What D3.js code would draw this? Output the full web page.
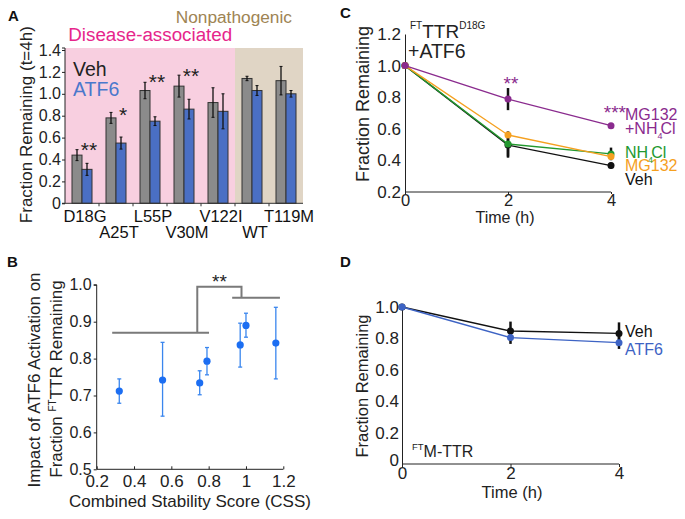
<!DOCTYPE html>
<html><head><meta charset="utf-8">
<script src="https://cdn.jsdelivr.net/npm/d3@7"></script>
<style>
body{margin:0;background:#fff}
svg text{font-family:"Liberation Sans",Arial,Helvetica,sans-serif}
</style>
</head><body>
<svg id="chart" width="685" height="519"></svg>
<script>
// ---------- Panel A data ----------
const mutants = ["D18G","A25T","L55P","V30M","V122I","WT","T119M"];
const vehA = [0.44,0.78,1.03,1.07,0.92,1.14,1.12];
const vehErrA = [0.05,0.05,0.075,0.10,0.135,0.02,0.13];
const atf6A = [0.31,0.55,0.75,0.86,0.84,1.03,1.00];
const atf6ErrA = [0.055,0.055,0.04,0.09,0.16,0.045,0.03];
const sigA = ["**","*","**","**","","",""];
const sigLevelA = [0.42,0.74,1.04,1.10,0,0,0];
const ticksA = [0,0.2,0.4,0.6,0.8,1.0,1.2,1.4];

// ---------- Panel B data ----------
const cssB = [0.321,0.553,0.752,0.791,0.969,1.0,1.16];
const impactB = [0.712,0.742,0.734,0.793,0.837,0.89,0.842];
const impactLoB = [0.679,0.644,0.702,0.756,0.777,0.858,0.745];
const impactHiB = [0.745,0.844,0.767,0.83,0.896,0.923,0.939];
const ticksBx = [0.2,0.4,0.6,0.8,1.0,1.2];
const ticksBy = [0.5,0.6,0.7,0.8,0.9,1.0];

// ---------- Panel C data ----------
const timeC = [0,2,4];
const seriesC = ["MG132+NH4Cl","NH4Cl","MG132","Veh"];
const mgNhC = [1.0,0.788,0.62];
const nhC = [1.0,0.504,0.441];
const mgC = [1.0,0.561,0.424];
const vehC = [1.0,0.497,0.367];
const errMgNhC = [0,0.07,0];
const errNhC = [0,0.08,0.04];
const errVehC = [0,0.08,0.02];
const ticksCy = [0.2,0.4,0.6,0.8,1.0,1.2];

// ---------- Panel D data ----------
const timeD = [0,2,4];
const vehD = [1.0,0.847,0.832];
const atf6D = [1.0,0.805,0.773];
const errVehD = [0,0.06,0.07];
const errAtf6D = [0,0.04,0.04];
const ticksDy = [0,0.2,0.4,0.6,0.8,1.0];

const FONT = '"Liberation Sans",Arial,Helvetica,sans-serif';
const svg = d3.select("#chart");
svg.append("rect").attr("width",685).attr("height",519).attr("fill","#fff");

function styleAxis(g, fs){
  g.selectAll("path.domain").attr("stroke","#222").attr("stroke-width",1);
  g.selectAll(".tick line").attr("stroke","#222");
  g.selectAll(".tick text").attr("font-family",FONT).attr("font-size",fs).attr("fill","#222");
}

// ================= PANEL A =================
const xA = d3.scaleBand().domain(mutants).range([65,303]).padding(0);
const yA = d3.scaleLinear().domain([0,1.4]).range([203.3,50]);
const gA = svg.append("g");
gA.append("rect").attr("x",xA.range()[0]).attr("y",yA(1.4)-2)
  .attr("width",xA("WT")-xA.range()[0]).attr("height",yA(0)-yA(1.4)+2).attr("fill","#f8cfe0");
gA.append("rect").attr("x",xA("WT")).attr("y",yA(1.4)-2)
  .attr("width",xA.range()[1]-xA("WT")).attr("height",yA(0)-yA(1.4)+2).attr("fill","#e0d5c5");

const bw = 10;
mutants.forEach((m,i)=>{
  const c = xA(m)+xA.bandwidth()/2;
  gA.append("rect").attr("x",c-bw).attr("y",yA(vehA[i])).attr("width",bw)
    .attr("height",yA(0)-yA(vehA[i])).attr("fill","#8b8b8b").attr("stroke","#333").attr("stroke-width",1);
  gA.append("rect").attr("x",c).attr("y",yA(atf6A[i])).attr("width",bw)
    .attr("height",yA(0)-yA(atf6A[i])).attr("fill","#4a6fc4").attr("stroke","#333").attr("stroke-width",1);
  [[c-bw/2,vehA[i],vehErrA[i]],[c+bw/2,atf6A[i],atf6ErrA[i]]].forEach(([x,v,e])=>{
    gA.append("line").attr("x1",x).attr("x2",x).attr("y1",yA(v-e)).attr("y2",yA(v+e))
      .attr("stroke","#111").attr("stroke-width",1.3);
    [v-e,v+e].forEach(t=>gA.append("line").attr("x1",x-1.5).attr("x2",x+1.5).attr("y1",yA(t)).attr("y2",yA(t))
      .attr("stroke","#111").attr("stroke-width",1));
  });
  if(sigA[i]){
    gA.append("text").attr("x",c+7).attr("y",yA(sigLevelA[i])).attr("text-anchor","middle")
      .attr("font-size",21).attr("fill","#222").text(sigA[i]);
  }
  gA.append("text").attr("x",c+3).attr("y",i%2===0?222:238).attr("text-anchor","middle")
    .attr("font-size",16.5).attr("fill","#111").text(m);
});
const axA = gA.append("g").attr("transform",`translate(${xA.range()[0]},0)`)
  .call(d3.axisLeft(yA).tickValues(ticksA).tickSize(3).tickPadding(1)
    .tickFormat(d=>d===0?"0":d3.format(".1f")(d)));
styleAxis(axA,16);
axA.select("path.domain").attr("d",`M-3,${yA(1.4)-2}H0V${yA(0)}H-3`);
gA.append("line").attr("x1",xA.range()[0]).attr("x2",xA.range()[1]).attr("y1",yA(0)).attr("y2",yA(0))
  .attr("stroke","#333").attr("stroke-width",1);
mutants.slice(1).forEach(m=>gA.append("line").attr("x1",xA(m)).attr("x2",xA(m))
  .attr("y1",yA(0)).attr("y2",yA(0)+3).attr("stroke","#333"));
gA.append("text").attr("transform",`translate(31.5,${(yA(0)+yA(1.4))/2-2}) rotate(-90)`)
  .attr("text-anchor","middle").attr("font-size",17).attr("fill","#222").text("Fraction Remaining (t=4h)");
gA.append("text").attr("x",73).attr("y",75.5).attr("font-size",19.5).attr("fill","#222").text("Veh");
gA.append("text").attr("x",73).attr("y",95.5).attr("font-size",19.5).attr("fill","#4a78cc").text("ATF6");
gA.append("text").attr("x",68.3).attr("y",40.5).attr("font-size",18.8).attr("fill","#e6258b").text("Disease-associated");
gA.append("text").attr("x",175.7).attr("y",22.5).attr("font-size",17.3).attr("fill","#9e8453").text("Nonpathogenic");
gA.append("text").attr("x",8).attr("y",20.7).attr("font-size",15).attr("font-weight","bold").attr("fill","#111").text("A");

// ================= PANEL B =================
const xB = d3.scaleLinear().domain([0.2,1.2]).range([96.7,283.3]);
const yB = d3.scaleLinear().domain([0.5,1.0]).range([469.3,284.8]);
const gB = svg.append("g");
const axBy = gB.append("g").attr("transform",`translate(${xB(0.2)},0)`)
  .call(d3.axisLeft(yB).tickValues(ticksBy).tickSize(3).tickPadding(2).tickFormat(d3.format(".1f")));
styleAxis(axBy,16);
axBy.select("path.domain").attr("d",`M-3,${yB(1.0)}H0V${yB(0.5)}`);
const axBx = gB.append("g").attr("transform",`translate(0,${yB(0.5)})`)
  .call(d3.axisBottom(xB).tickValues(ticksBx).tickSize(-3).tickPadding(6).tickFormat(d=>String(+d.toFixed(1))));
styleAxis(axBx,17);
axBx.select("path.domain").attr("d",`M${xB(0.2)},0H${xB(1.2)}`);
const brLeft = [0.283,0.802,0.870];
const brRight = [0.926,1.182,0.965];
const brTop = 0.995;
const brJoinL = 0.739, brJoinR = 0.976;
const brPath = d3.path();
brPath.moveTo(xB(brLeft[0]),yB(brLeft[2])); brPath.lineTo(xB(brLeft[1]),yB(brLeft[2]));
brPath.moveTo(xB(brJoinL),yB(brLeft[2])); brPath.lineTo(xB(brJoinL),yB(brTop));
brPath.lineTo(xB(brJoinR),yB(brTop)); brPath.lineTo(xB(brJoinR),yB(brRight[2]));
brPath.moveTo(xB(brRight[0]),yB(brRight[2])); brPath.lineTo(xB(brRight[1]),yB(brRight[2]));
gB.append("path").attr("d",brPath.toString()).attr("fill","none").attr("stroke","#7a7a7a").attr("stroke-width",2);
gB.append("text").attr("x",(xB(brJoinL)+xB(brJoinR))/2).attr("y",yB(brTop)+1).attr("text-anchor","middle")
  .attr("font-size",19).attr("fill","#222").text("**");
cssB.forEach((x,i)=>{
  gB.append("line").attr("x1",xB(x)).attr("x2",xB(x)).attr("y1",yB(impactLoB[i])).attr("y2",yB(impactHiB[i]))
    .attr("stroke","#3a86ee").attr("stroke-width",1.3);
  [impactLoB[i],impactHiB[i]].forEach(t=>gB.append("line").attr("x1",xB(x)-2).attr("x2",xB(x)+2)
    .attr("y1",yB(t)).attr("y2",yB(t)).attr("stroke","#3a86ee").attr("stroke-width",1.3));
  gB.append("circle").attr("cx",xB(x)).attr("cy",yB(impactB[i])).attr("r",3.6).attr("fill","#1c6ef2");
});
gB.append("text").attr("transform",`translate(40,380) rotate(-90)`).attr("text-anchor","middle")
  .attr("font-size",17).attr("fill","#222").text("Impact of ATF6 Activation on");
const tB2 = gB.append("text").attr("transform",`translate(61.5,379) rotate(-90)`).attr("text-anchor","middle")
  .attr("font-size",17).attr("fill","#222");
tB2.append("tspan").text("Fraction ");
tB2.append("tspan").attr("font-size",10).attr("dy",-6).text("FT");
tB2.append("tspan").attr("dy",6).text("TTR Remaining");
gB.append("text").attr("x",190).attr("y",507).attr("text-anchor","middle").attr("font-size",17)
  .attr("fill","#222").text("Combined Stability Score (CSS)");
gB.append("text").attr("x",7).attr("y",267).attr("font-size",15).attr("font-weight","bold").attr("fill","#111").text("B");

// ================= PANEL C =================
const xC = d3.scaleLinear().domain([0,4]).range([405,611]);
const yC = d3.scaleLinear().domain([0.2,1.2]).range([192,34]);
const gC = svg.append("g");
const axCy = gC.append("g").attr("transform",`translate(${xC(0)},0)`)
  .call(d3.axisLeft(yC).tickValues(ticksCy).tickSize(0).tickPadding(4).tickFormat(d3.format(".1f")));
styleAxis(axCy,17);
const axCx = gC.append("g").attr("transform",`translate(0,${yC(0.2)})`)
  .call(d3.axisBottom(xC).tickValues(timeC).tickSize(2).tickPadding(0).tickFormat(d3.format("d")));
styleAxis(axCx,16.5);
axCx.select("path.domain").attr("d",`M${xC(0)},0H${xC(4)}`);
gC.append("text").attr("transform",`translate(369,104) rotate(-90)`).attr("text-anchor","middle")
  .attr("font-size",18).attr("fill","#222").text("Fraction Remaining");
gC.append("text").attr("x",505).attr("y",223).attr("text-anchor","middle").attr("font-size",16)
  .attr("fill","#222").text("Time (h)");
const colC = {mgnh:"#8a2b8e",nh:"#23982f",mg:"#f5a01f",veh:"#111"};
const lineC = d3.line().x((d,i)=>xC(timeC[i])).y(d=>yC(d));
const drawC = [[vehC,colC.veh],[nhC,colC.nh],[mgC,colC.mg],[mgNhC,colC.mgnh]];
[[vehC,errVehC],[nhC,errNhC],[mgNhC,errMgNhC]].forEach(([vals,errs])=>{
  vals.forEach((v,i)=>{ if(errs[i]>0) gC.append("line").attr("x1",xC(timeC[i])).attr("x2",xC(timeC[i]))
    .attr("y1",yC(v-errs[i])).attr("y2",yC(v+errs[i])).attr("stroke","#111").attr("stroke-width",2.5); });
});
drawC.forEach(([vals,col])=>{
  gC.append("path").attr("d",lineC(vals)).attr("fill","none").attr("stroke",col).attr("stroke-width",1.4);
  vals.forEach((v,i)=>gC.append("circle").attr("cx",xC(timeC[i])).attr("cy",yC(v)).attr("r",3.5).attr("fill",col));
});
gC.append("text").attr("x",xC(2)+3).attr("y",yC(0.847)).attr("text-anchor","middle").attr("font-size",19)
  .attr("fill",colC.mgnh).text("**");
gC.append("text").attr("x",xC(4)+15).attr("y",yC(0.663)).attr("text-anchor","end").attr("font-size",19)
  .attr("fill",colC.mgnh).text("***");
function nh4cl(sel, prefix){
  sel.append("tspan").text(prefix+"NH");
  sel.append("tspan").attr("font-size",9).attr("dy",5).text("4");
  sel.append("tspan").attr("dy",-5).attr("dx",-2).text("Cl");
}
gC.append("text").attr("x",625).attr("y",119.5).attr("font-size",16).attr("fill",colC.mgnh).text("MG132");
nh4cl(gC.append("text").attr("x",625).attr("y",133.5).attr("font-size",16).attr("fill",colC.mgnh),"+");
nh4cl(gC.append("text").attr("x",625).attr("y",157.5).attr("font-size",16).attr("fill",colC.nh),"");
gC.append("text").attr("x",625).attr("y",171).attr("font-size",16).attr("fill",colC.mg).text("MG132");
gC.append("text").attr("x",625).attr("y",184.5).attr("font-size",16).attr("fill",colC.veh).text("Veh");
const tC = gC.append("text").attr("x",410).attr("y",38).attr("font-size",19).attr("fill","#222");
tC.append("tspan").attr("font-size",10).attr("dy",-9).text("FT");
tC.append("tspan").attr("dy",9).text("TTR");
tC.append("tspan").attr("font-size",10).attr("dy",-9).text("D18G");
gC.append("text").attr("x",408).attr("y",58.3).attr("font-size",19.5).attr("fill","#222").text("+ATF6");
gC.append("text").attr("x",340).attr("y",18.3).attr("font-size",15).attr("font-weight","bold").attr("fill","#111").text("C");

// ================= PANEL D =================
const xD = d3.scaleLinear().domain([0,4]).range([402,619]);
const yD = d3.scaleLinear().domain([0,1]).range([464,307]);
const gD = svg.append("g");
const axDy = gD.append("g").attr("transform",`translate(${xD(0)},0)`)
  .call(d3.axisLeft(yD).tickValues(ticksDy).tickSize(0).tickPadding(3)
    .tickFormat(d=>d===0?"0":d3.format(".1f")(d)));
styleAxis(axDy,17);
axDy.selectAll(".tick text").filter(d=>d===0).attr("dy","0.1em");
const axDx = gD.append("g").attr("transform",`translate(0,${yD(0)})`)
  .call(d3.axisBottom(xD).tickValues(timeD).tickSize(3).tickPadding(0).tickFormat(d3.format("d")));
styleAxis(axDx,17);
axDx.select("path.domain").attr("d",`M${xD(0)},0H${xD(4)}`);
gD.append("text").attr("transform",`translate(368,386) rotate(-90)`).attr("text-anchor","middle")
  .attr("font-size",16.5).attr("fill","#222").text("Fraction Remaining");
gD.append("text").attr("x",512).attr("y",498).attr("text-anchor","middle").attr("font-size",16.5)
  .attr("fill","#222").text("Time (h)");
const lineD = d3.line().x((d,i)=>xD(timeD[i])).y(d=>yD(d));
[[vehD,errVehD],[atf6D,errAtf6D]].forEach(([vals,errs])=>{
  vals.forEach((v,i)=>{ if(errs[i]>0) gD.append("line").attr("x1",xD(timeD[i])).attr("x2",xD(timeD[i]))
    .attr("y1",yD(v-errs[i])).attr("y2",yD(v+errs[i])).attr("stroke","#111").attr("stroke-width",2.5); });
});
[[vehD,"#111"],[atf6D,"#3d63c4"]].forEach(([vals,col])=>{
  gD.append("path").attr("d",lineD(vals)).attr("fill","none").attr("stroke",col).attr("stroke-width",1.4);
  vals.forEach((v,i)=>gD.append("circle").attr("cx",xD(timeD[i])).attr("cy",yD(v)).attr("r",3.5).attr("fill",col));
});
gD.append("text").attr("x",625).attr("y",337).attr("font-size",16).attr("fill","#111").text("Veh");
gD.append("text").attr("x",625).attr("y",355).attr("font-size",16).attr("fill","#3d63c4").text("ATF6");
const tD = gD.append("text").attr("x",412).attr("y",456.5).attr("font-size",16).attr("fill","#222");
tD.append("tspan").attr("font-size",9.5).attr("dy",-7).text("FT");
tD.append("tspan").attr("dy",7).text("M-TTR");
gD.append("text").attr("x",340).attr("y",267).attr("font-size",15).attr("font-weight","bold").attr("fill","#111").text("D");
</script>
</body></html>
